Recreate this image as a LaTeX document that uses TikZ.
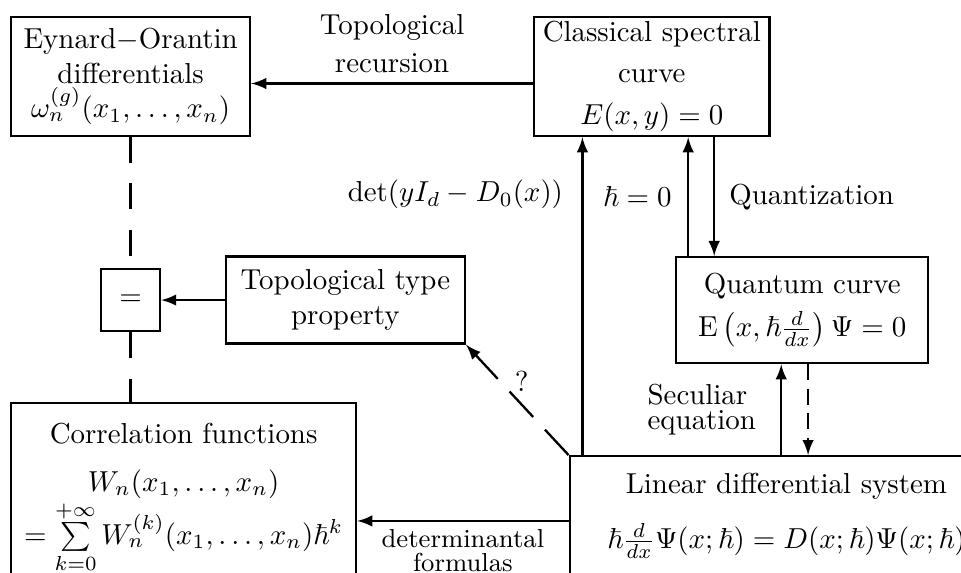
\documentclass[tikz,border=0pt]{standalone}
\usepackage{amsmath,amssymb}
\usetikzlibrary{arrows, positioning, calc}

\begin{document}
\begin{tikzpicture}[
    node distance=1.8cm,
    block/.style={rectangle, draw, thick, align=center, inner sep=3pt},
    line/.style={draw, -latex, thick},
    dline/.style={draw, thick, dash pattern=on 9pt off 7pt}
]
    \useasboundingbox (-45.2pt,26.5pt) rectangle (287.4pt,-171.8pt);
    \clip (-45.2pt,26.5pt) rectangle (287.4pt,-171.8pt);

    % Nodes
    \node [block, minimum width=82.7pt, minimum height=41.2pt] (eo) {Eynard$-$Orantin\\differentials\\$\omega_n^{(g)}(x_1,\ldots,x_n)$};
    \node [block, right=97.5pt of eo, minimum width=80.6pt, minimum height=41.2pt, inner ysep=1pt] (cls) {Classical spectral\\[2pt]curve\\[2.5pt]$E(x,y)=0$};
    \node [block, below=45.2pt of eo, minimum width=20.4pt, minimum height=21.5pt] (eq) {$=$};
    \node [block, right=22pt of eq, minimum width=82.7pt, minimum height=30.1pt] (topo) {Topological type\\property};
    \node [block, below=24.1pt of eq, xshift=18.35pt, minimum width=119.4pt, inner ysep=7pt] (corr) {Correlation functions\\[4.5pt]$W_n(x_1,\ldots,x_n)$\\[0pt]$=\sum\limits_{k=0}^{+\infty}W_n^{(k)}(x_1,\ldots,x_n)\hbar^k$};
    \node [block, below=41.1pt of cls, xshift=52.1pt, minimum width=87.2pt, minimum height=36.7pt] (qc) {Quantum curve\\[3pt]$\mathrm{E}\left(x,\hbar\frac{d}{dx}\right)\Psi=0$};
    \node [block, below=31.4pt of qc, xshift=-5.5pt, minimum width=150pt, inner ysep=6pt] (lin) {Linear differential system\\[7pt]$\hbar\frac{d}{dx}\Psi(x;\hbar)=D(x;\hbar)\Psi(x;\hbar)$};

    % Connector ends
    \coordinate (ra) at ([yshift=-2.4pt]cls.west);
    \coordinate (c1) at ([xshift=4.8pt]lin.north west);
    \coordinate (c2) at ([xshift=4.5pt]qc.north west);
    \coordinate (c3) at ([xshift=13.5pt]qc.north west);
    \coordinate (c4) at ([xshift=36.7pt]qc.south west);
    \coordinate (c5) at ([xshift=46pt]qc.south west);
    \coordinate (c6) at ([yshift=-22.8pt]lin.north west);

    % Paths
    \path [line] (ra) -- node[above, align=center] {Topological\\[1pt]recursion} (ra -| eo.east);
    \path [dline] (eo.south) -- (eq.north);
    \path [dline] (eq.south) -- (eq.south |- corr.north);
    \path [line] (topo.west) -- (eq.east);
    \path [line] (c1) -- node[pos=0.82, left, xshift=-3pt] {$\det(yI_d-D_0(x))$} (c1 |- cls.south);
    \path [line] (c2) -- node[left, xshift=-2pt] {$\hbar=0$} (c2 |- cls.south);
    \path [line] (c3 |- cls.south) -- node[right, xshift=1.5pt] {Quantization} (c3);
    \path [line] (c4 |- lin.north) -- node[left, align=left, xshift=-5pt] {Seculiar\\[-3.3pt]equation} (c4);
    \path [line, dash pattern=on 5.5pt off 3pt] (c5) -- (c5 |- lin.north);
    \path [line, dash pattern=on 12pt off 6pt] (lin.north west) -- node[pos=0.55, above right, inner sep=0.5pt] {?} (topo.south east);
    \path [line] (c6) -- node[below, font=\small, align=center, inner sep=2.5pt] {determinantal\\[-2.5pt]formulas} (c6 -| corr.east);
\end{tikzpicture}
\end{document}
